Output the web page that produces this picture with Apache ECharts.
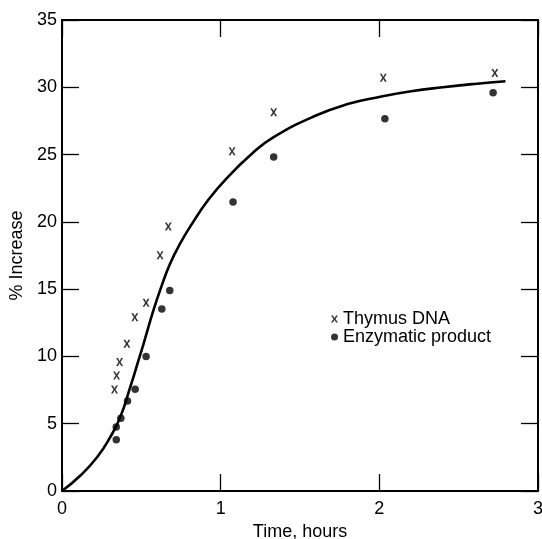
<!DOCTYPE html>
<html>
<head>
<meta charset="utf-8">
<script src="https://cdn.jsdelivr.net/npm/echarts@6/dist/echarts.min.js"></script>
<style>
  html, body { margin: 0; padding: 0; background: #fff; }
  #main { width: 542px; height: 539px; }
</style>
</head>
<body>
<div id="main"></div>
<script>
// values
const thymusX = [0.331, 0.344, 0.363, 0.409, 0.459, 0.530, 0.618, 0.670, 1.072, 1.334, 2.025, 2.728];
const thymusY = [7.55, 8.59, 9.58, 10.94, 12.92, 13.99, 17.51, 19.66, 25.24, 28.14, 30.7, 31.06];
const enzX = [0.342, 0.342, 0.371, 0.413, 0.461, 0.530, 0.629, 0.679, 1.078, 1.334, 2.035, 2.717];
const enzY = [3.8, 4.75, 5.41, 6.68, 7.57, 10.0, 13.52, 14.9, 21.47, 24.82, 27.67, 29.6];
// fitted curve as drawn
const curveX = [0, 0.116, 0.221, 0.304, 0.367, 0.43, 0.482, 0.514, 0.576, 0.629, 0.681, 0.744, 0.827, 0.92, 1.026, 1.2, 1.334, 1.6, 1.8, 2.0, 2.2, 2.4, 2.6, 2.795];
const curveY = [0, 1.15, 2.51, 4.0, 5.49, 7.72, 9.70, 10.94, 13.42, 15.28, 16.89, 18.38, 20.0, 21.6, 23.09, 25.1, 26.3, 27.9, 28.75, 29.28, 29.7, 30.0, 30.25, 30.45];

const xTicks = ['0', '1', '2', '3'];
const yTicks = ['0', '5', '10', '15', '20', '25', '30', '35'];

const FONT = 'Liberation Sans';
const crossPath = 'path://M0,0H2.7L5,3.5L7.3,0H10L6.4,5L10,10H7.3L5,6.5L2.7,10H0L3.6,5Z';

function zip(a, b) {
    let out = [];
    for (let i = 0; i < a.length; i++) {
        out.push([a[i], b[i]]);
    }
    return out;
}

const axisLine = { show: true, onZero: false, lineStyle: { color: '#000', width: 2 } };
const axisTick = { show: true, inside: true, length: 17, lineStyle: { color: '#000', width: 1.3 } };

const chart = echarts.init(document.getElementById('main'));
chart.setOption({
    backgroundColor: '#fff',
    animation: false,
    grid: { left: 62, right: 4, top: 20, bottom: 48, containLabel: false, outerBoundsMode: 'none' },
    legend: {
        orient: 'vertical',
        left: 326,
        top: 305,
        itemGap: 0,
        itemWidth: 7,
        itemHeight: 7,
        textStyle: { fontFamily: FONT, fontSize: 18, color: '#000', lineHeight: 16 },
        data: ['Thymus DNA', 'Enzymatic product']
    },
    xAxis: [{
        type: 'value', min: 0, max: 3, interval: 1,
        name: 'Time, hours', nameLocation: 'middle', nameGap: 24,
        nameTextStyle: { fontFamily: FONT, fontSize: 18, color: '#000' },
        axisLine, axisTick,
        axisLabel: {
            fontFamily: FONT, fontSize: 18, color: '#000', margin: 9,
            formatter: (v) => xTicks[Math.round(v)]
        },
        splitLine: { show: false }
    }, {
        type: 'value', position: 'top', min: 0, max: 3, interval: 1,
        axisLine, axisTick, axisLabel: { show: false }, splitLine: { show: false }
    }],
    yAxis: [{
        type: 'value', min: 0, max: 35, interval: 5,
        name: '% Increase', nameLocation: 'middle', nameGap: 36,
        nameTextStyle: { fontFamily: FONT, fontSize: 18, color: '#000' },
        axisLine, axisTick,
        axisLabel: {
            fontFamily: FONT, fontSize: 18, color: '#000', margin: 5,
            formatter: (v) => yTicks[Math.round(v / 5)]
        },
        splitLine: { show: false }
    }, {
        type: 'value', position: 'right', min: 0, max: 35, interval: 5,
        axisLine, axisTick, axisLabel: { show: false }, splitLine: { show: false }
    }],
    series: [{
        name: 'curve',
        type: 'line',
        data: zip(curveX, curveY),
        smooth: 0.5,
        showSymbol: false,
        lineStyle: { color: '#000', width: 2.6 },
        z: 2
    }, {
        name: 'Thymus DNA',
        type: 'scatter',
        data: zip(thymusX, thymusY),
        symbol: crossPath,
        symbolSize: [7, 8],
        itemStyle: { color: '#000' },
        z: 3
    }, {
        name: 'Enzymatic product',
        type: 'scatter',
        data: zip(enzX, enzY),
        symbol: 'circle',
        symbolSize: 7.5,
        itemStyle: { color: '#000' },
        z: 3
    }]
});
</script>
</body>
</html>
